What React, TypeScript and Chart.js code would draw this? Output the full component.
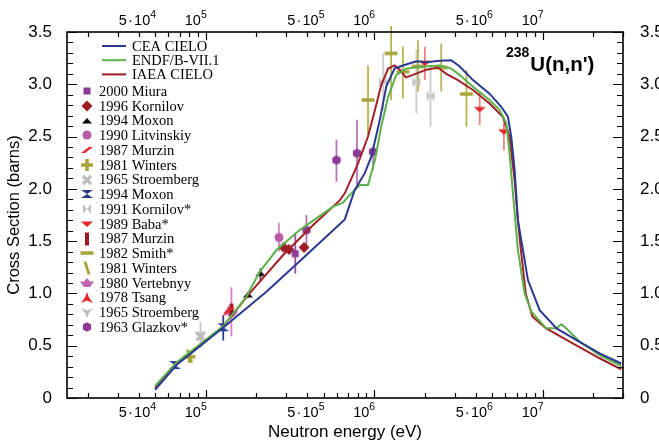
import React, { useEffect, useRef } from 'react';
import { Chart, registerables } from 'chart.js';

Chart.register(...registerables);

// ---------- axes ----------
const X_MIN = 1.5e4;
const X_MAX = 3e7;
const Y_MIN = 0;
const Y_MAX = 3.5;
const X_TICK_VALUES = [5e4, 1e5, 5e5, 1e6, 5e6, 1e7];
const X_TICK_BASES = ['5\u200A·\u200A10', '10', '5\u200A·\u200A10', '10', '5\u200A·\u200A10', '10'];
const X_TICK_EXPONENTS = ['4', '5', '5', '6', '6', '7'];
const Y_TICK_VALUES = [0, 0.5, 1, 1.5, 2, 2.5, 3, 3.5];
const Y_TICK_LABELS = ['0', '0.5', '1.0', '1.5', '2.0', '2.5', '3.0', '3.5'];

// ---------- evaluated curves ----------
const CEA_E = [5e4, 6.7e4, 1.26e5, 2.29e5, 3.96e5, 6.69e5, 7.66e5, 8.79e5, 9.62e5, 1.08e6, 1.18e6, 1.32e6, 1.48e6, 1.78e6, 2.04e6, 2.45e6, 2.87e6, 3.22e6, 3.86e6, 4.84e6, 5.68e6, 6.22e6, 6.51e6, 6.82e6, 7.13e6, 7.64e6, 8.18e6, 9.6e6, 1.21e7, 1.58e7, 2.18e7, 2.93e7];
const CEA_XS = [0.077, 0.315, 0.67, 1.016, 1.367, 1.708, 1.99, 2.15, 2.31, 2.66, 2.98, 3.15, 3.18, 3.22, 3.21, 3.225, 3.23, 3.17, 3.04, 2.91, 2.785, 2.69, 2.5, 2.18, 1.7, 1.415, 1.128, 0.84, 0.666, 0.555, 0.427, 0.33];

const ENDF_E = [5e4, 6.7e4, 1.26e5, 1.74e5, 2.09e5, 2.63e5, 3.61e5, 5.69e5, 6.53e5, 7.0e5, 8.2e5, 9.19e5, 1.01e6, 1.1e6, 1.21e6, 1.35e6, 1.55e6, 1.86e6, 2.45e6, 2.87e6, 3.22e6, 3.86e6, 4.84e6, 5.56e6, 6.09e6, 6.36e6, 6.67e6, 7.13e6, 7.82e6, 8.57e6, 1.05e7, 1.21e7, 1.29e7, 1.38e7, 1.66e7, 2.18e7, 2.93e7];
const ENDF_XS = [0.115, 0.34, 0.68, 0.968, 1.207, 1.415, 1.606, 1.83, 1.867, 1.925, 2.036, 2.036, 2.275, 2.594, 2.88, 3.088, 3.15, 3.167, 3.18, 3.15, 3.088, 2.977, 2.85, 2.753, 2.626, 2.34, 1.95, 1.415, 1.0, 0.825, 0.666, 0.666, 0.705, 0.666, 0.538, 0.41, 0.306];

const IAEA_E = [5e4, 6.7e4, 1.26e5, 1.82e5, 2.88e5, 4.34e5, 6.24e5, 6.69e5, 8.02e5, 9.19e5, 1.01e6, 1.1e6, 1.21e6, 1.32e6, 1.42e6, 1.54e6, 1.7e6, 2.04e6, 2.39e6, 2.68e6, 3.14e6, 3.86e6, 4.84e6, 5.8e6, 6.36e6, 6.82e6, 7.13e6, 7.43e6, 7.94e6, 8.7e6, 1.05e7, 1.51e7, 2.18e7, 2.93e7];
const IAEA_XS = [0.096, 0.33, 0.68, 1.0, 1.367, 1.654, 1.89, 1.957, 2.244, 2.5, 2.753, 2.99, 3.15, 3.18, 3.14, 3.066, 3.09, 3.14, 3.16, 3.1, 3.04, 2.945, 2.817, 2.69, 2.5, 2.08, 1.7, 1.415, 1.0, 0.777, 0.666, 0.523, 0.38, 0.274];

// ---------- experimental data ----------
const MIURA_E = [3.4e5];
const MIURA_XS = [1.38];
const MIURA_LO = [1.19];
const MIURA_HI = [1.58];

const KORNILOV96_E = [2.9e5, 3.12e5, 3.83e5];
const KORNILOV96_XS = [1.44, 1.42, 1.44];

const MOXON_TRI_E = [1.78e5, 2.11e5];
const MOXON_TRI_XS = [0.985, 1.19];
const MOXON_TRI_LO = [0.96, 1.11];
const MOXON_TRI_HI = [1.01, 1.24];

const LITVINSKIY_E = [2.72e5];
const LITVINSKIY_XS = [1.536];
const LITVINSKIY_LO = [1.4];
const LITVINSKIY_HI = [1.675];

const MURZIN_A_E = [1.38e5];
const MURZIN_A_XS = [0.84];

const WINTERS_A_E = [8.0e4];
const WINTERS_A_XS = [0.395];

const STROEMBERG_A_E = [9.3e4];
const STROEMBERG_A_XS = [0.59];
const STROEMBERG_A_LO = [0.475];
const STROEMBERG_A_HI = [0.73];

const MOXON_HG_E = [6.55e4, 1.27e5];
const MOXON_HG_XS = [0.315, 0.676];
const MOXON_HG_LO = [0.3, 0.55];
const MOXON_HG_HI = [0.33, 0.79];

const KORNILOV91_E = [1.13e6, 1.78e6, 2.16e6];
const KORNILOV91_XS = [3.02, 3.02, 2.887];
const KORNILOV91_LO = [2.75, 2.72, 2.59];
const KORNILOV91_HI = [3.3, 3.33, 3.18];

const BABA_E = [2.0e6, 4.23e6, 5.89e6];
const BABA_XS = [3.2, 2.76, 2.546];
const BABA_LO = [3.04, 2.61, 2.37];
const BABA_HI = [3.36, 2.93, 2.63];

const MURZIN_B_E = [1.42e5];
const MURZIN_B_XS = [0.84];

const SMITH_E = [9.19e5, 1.26e6, 1.48e6, 1.82e6, 2.5e6, 3.53e6];
const SMITH_XS = [2.85, 3.295, 3.12, 3.17, 3.16, 2.906];
const SMITH_LO = [2.51, 2.85, 2.865, 2.93, 2.93, 2.594];
const SMITH_HI = [3.18, 3.556, 3.36, 3.42, 3.39, 3.136];

const WINTERS_B_E = [8.0e4];
const WINTERS_B_XS = [0.4];

const VERTEBNYY_E = [1.42e5];
const VERTEBNYY_XS = [0.82];
const VERTEBNYY_LO = [0.59];
const VERTEBNYY_HI = [1.06];

const TSANG_E = [1.36e5];
const TSANG_XS = [0.83];

const STROEMBERG_B_E = [9.3e4];
const STROEMBERG_B_XS = [0.6];

const GLAZKOV_E = [3.96e5, 5.97e5, 7.9e5, 9.84e5];
const GLAZKOV_XS = [1.606, 2.275, 2.34, 2.355];
const GLAZKOV_LO = [1.46, 2.07, 2.04, 2.18];
const GLAZKOV_HI = [1.75, 2.47, 2.66, 2.39];

const CURVES = [
  { label: 'CEA CIELO', e: CEA_E, xs: CEA_XS, color: '#2b3990' },
  { label: 'ENDF/B-VII.1', e: ENDF_E, xs: ENDF_XS, color: '#5cb14b' },
  { label: 'IAEA CIELO', e: IAEA_E, xs: IAEA_XS, color: '#a3202a' },
];

const SERIES = [
  { label: '2000 Miura', e: MIURA_E, xs: MIURA_XS, lo: MIURA_LO, hi: MIURA_HI, shape: 'square', color: '#8b3a95', err: '#9a4fa3' },
  { label: '1996 Kornilov', e: KORNILOV96_E, xs: KORNILOV96_XS, lo: null, hi: null, shape: 'diamond', color: '#9b1c22', err: '#9b1c22' },
  { label: '1994 Moxon', e: MOXON_TRI_E, xs: MOXON_TRI_XS, lo: MOXON_TRI_LO, hi: MOXON_TRI_HI, shape: 'triUp', color: '#000000', err: '#555555' },
  { label: '1990 Litvinskiy', e: LITVINSKIY_E, xs: LITVINSKIY_XS, lo: LITVINSKIY_LO, hi: LITVINSKIY_HI, shape: 'circle', color: '#b85aa8', err: '#cf8bc6' },
  { label: '1987 Murzin', e: MURZIN_A_E, xs: MURZIN_A_XS, lo: null, hi: null, shape: 'slantR', color: '#e2262c', err: '#e2262c' },
  { label: '1981 Winters', e: WINTERS_A_E, xs: WINTERS_A_XS, lo: null, hi: null, shape: 'plus', color: '#a9a43a', err: '#a9a43a' },
  { label: '1965 Stroemberg', e: STROEMBERG_A_E, xs: STROEMBERG_A_XS, lo: STROEMBERG_A_LO, hi: STROEMBERG_A_HI, shape: 'xcross', color: '#bdbdbd', err: '#c8c8c8' },
  { label: '1994 Moxon', e: MOXON_HG_E, xs: MOXON_HG_XS, lo: MOXON_HG_LO, hi: MOXON_HG_HI, shape: 'hourglass', color: '#2b3990', err: '#2b3990' },
  { label: '1991 Kornilov*', e: KORNILOV91_E, xs: KORNILOV91_XS, lo: KORNILOV91_LO, hi: KORNILOV91_HI, shape: 'bowtie', color: '#c2c2c2', err: '#cdcdcd' },
  { label: '1989 Baba*', e: BABA_E, xs: BABA_XS, lo: BABA_LO, hi: BABA_HI, shape: 'triDown', color: '#e2262c', err: '#ee8080' },
  { label: '1987 Murzin', e: MURZIN_B_E, xs: MURZIN_B_XS, lo: null, hi: null, shape: 'vbar', color: '#9b1c22', err: '#9b1c22' },
  { label: '1982 Smith*', e: SMITH_E, xs: SMITH_XS, lo: SMITH_LO, hi: SMITH_HI, shape: 'hbar', color: '#a9a43a', err: '#b8b452' },
  { label: '1981 Winters', e: WINTERS_B_E, xs: WINTERS_B_XS, lo: null, hi: null, shape: 'slantL', color: '#a9a43a', err: '#a9a43a' },
  { label: '1980 Vertebnyy', e: VERTEBNYY_E, xs: VERTEBNYY_XS, lo: VERTEBNYY_LO, hi: VERTEBNYY_HI, shape: 'boat', color: '#c264b4', err: '#d57fcc' },
  { label: '1978 Tsang', e: TSANG_E, xs: TSANG_XS, lo: null, hi: null, shape: 'arrowUp', color: '#e2262c', err: '#e2262c' },
  { label: '1965 Stroemberg', e: STROEMBERG_B_E, xs: STROEMBERG_B_XS, lo: null, hi: null, shape: 'yshape', color: '#bdbdbd', err: '#c8c8c8' },
  { label: '1963 Glazkov*', e: GLAZKOV_E, xs: GLAZKOV_XS, lo: GLAZKOV_LO, hi: GLAZKOV_HI, shape: 'hexagon', color: '#8b3a95', err: '#b474b6' },
];

const SANS = '"Liberation Sans", Arial, Helvetica, sans-serif';
const SERIF = '"Liberation Serif", "Times New Roman", serif';

function makeMarker(shape: string, color: string): HTMLCanvasElement {
  const c = document.createElement('canvas');
  c.width = 16;
  c.height = 16;
  const g = c.getContext('2d') as CanvasRenderingContext2D;
  g.translate(8, 8);
  g.fillStyle = color;
  g.strokeStyle = color;
  const poly = (pts: number[][]) => {
    g.beginPath();
    pts.forEach(([x, y], i) => (i ? g.lineTo(x, y) : g.moveTo(x, y)));
    g.closePath();
    g.fill();
  };
  switch (shape) {
    case 'square': g.fillRect(-3.5, -3.5, 7, 7); break;
    case 'diamond': poly([[0, -5.5], [5.5, 0], [0, 5.5], [-5.5, 0]]); break;
    case 'triUp': poly([[-5, 2.5], [5, 2.5], [0, -3]]); break;
    case 'circle': g.beginPath(); g.arc(0, 0, 4.5, 0, Math.PI * 2); g.fill(); break;
    case 'slantR': poly([[-6, 3], [-2, 3], [6, -3], [2, -3]]); break;
    case 'plus': g.fillRect(-6, -1.75, 12, 3.5); g.fillRect(-1.75, -6, 3.5, 12); break;
    case 'xcross':
      g.lineWidth = 3.2; g.beginPath(); g.moveTo(-4, -4); g.lineTo(4, 4); g.moveTo(-4, 4); g.lineTo(4, -4); g.stroke(); break;
    case 'hourglass': poly([[-6, -4], [6, -4], [0, 0]]); poly([[-6, 4], [6, 4], [0, 0]]); break;
    case 'bowtie': poly([[-4, -5], [-4, 5], [0, 0]]); poly([[4, -5], [4, 5], [0, 0]]); break;
    case 'triDown': poly([[-6, -2.5], [6, -2.5], [0, 3]]); break;
    case 'vbar': g.fillRect(-2, -6.5, 4, 13); break;
    case 'hbar': g.fillRect(-6.5, -1.75, 13, 3.5); break;
    case 'slantL': poly([[-3.5, -6.5], [-0.5, -6.5], [3.5, 6.5], [0.5, 6.5]]); break;
    case 'boat': poly([[0, -5], [3, -1.5], [7, -1.5], [3, 4], [-3, 4], [-7, -1.5], [-3, -1.5]]); break;
    case 'arrowUp': poly([[0, -6], [2, -0.5], [6, 5], [0, 2.5], [-6, 5], [-2, -0.5]]); break;
    case 'yshape': poly([[-6, -4], [0, -1.5], [6, -4], [2, 1], [0, 6], [-2, 1]]); break;
    case 'hexagon': {
      const pts: number[][] = [];
      for (let k = 0; k < 6; k++) { const a = Math.PI / 6 + (k * Math.PI) / 3; pts.push([4.8 * Math.cos(a), 4.8 * Math.sin(a)]); }
      poly(pts); break;
    }
  }
  return c;
}

export default function App() {
  const ref = useRef<HTMLCanvasElement>(null);

  useEffect(() => {
    document.body.style.margin = '0';
    const canvas = ref.current as HTMLCanvasElement;
    const markers = SERIES.map((s) => makeMarker(s.shape, s.color));

    const datasets: any[] = [];
    CURVES.forEach((c) => {
      datasets.push({
        label: c.label,
        data: c.e.map((e, i) => ({ x: e, y: c.xs[i] })),
        showLine: true,
        borderColor: c.color,
        backgroundColor: c.color,
        borderWidth: 2,
        pointRadius: 0,
        tension: 0,
        order: 0,
      });
    });
    SERIES.forEach((s, k) => {
      datasets.push({
        label: s.label,
        data: s.e.map((e, i) => ({ x: e, y: s.xs[i] })),
        showLine: false,
        pointStyle: markers[k],
        pointRadius: 6,
        order: 1,
        errLo: s.lo,
        errHi: s.hi,
        errColor: s.err,
      });
    });

    const errorBars = {
      id: 'errorBars',
      beforeDatasetsDraw(chart: any) {
        const { ctx, scales } = chart;
        ctx.save();
        ctx.lineWidth = 1.8;
        chart.data.datasets.forEach((ds: any) => {
          if (!ds.errLo) return;
          ctx.strokeStyle = ds.errColor;
          ds.data.forEach((p: any, i: number) => {
            const px = scales.x.getPixelForValue(p.x);
            ctx.beginPath();
            ctx.moveTo(px, scales.y.getPixelForValue(ds.errLo[i]));
            ctx.lineTo(px, scales.y.getPixelForValue(ds.errHi[i]));
            ctx.stroke();
          });
        });
        ctx.restore();
      },
    };

    const frameTicks = {
      id: 'frameTicks',
      afterDraw(chart: any) {
        const { ctx, chartArea: a, scales } = chart;
        ctx.save();
        ctx.strokeStyle = '#000';
        ctx.lineWidth = 1.2;
        for (let d = 1e4; d <= 1e7; d *= 10) {
          for (let m = 1; m <= 9; m++) {
            const v = m * d;
            if (v < X_MIN || v > X_MAX) continue;
            const px = Math.round(scales.x.getPixelForValue(v)) + 0.5;
            const len = m === 1 ? 8 : 5;
            ctx.beginPath();
            ctx.moveTo(px, a.bottom); ctx.lineTo(px, a.bottom - len);
            ctx.moveTo(px, a.top); ctx.lineTo(px, a.top + len);
            ctx.stroke();
          }
        }
        for (let i = 0; i <= 35; i++) {
          const py = Math.round(scales.y.getPixelForValue(i / 10)) + 0.5;
          const len = i % 5 === 0 ? 10 : 6;
          ctx.beginPath();
          ctx.moveTo(a.left, py); ctx.lineTo(a.left + len, py);
          ctx.moveTo(a.right, py); ctx.lineTo(a.right - len, py);
          ctx.stroke();
        }
        ctx.lineWidth = 1.6;
        ctx.strokeRect(a.left, a.top, a.right - a.left, a.bottom - a.top);

        // x tick labels with real superscripts (bottom and top)
        ctx.fillStyle = '#000';
        ctx.textAlign = 'left';
        ctx.textBaseline = 'alphabetic';
        X_TICK_VALUES.forEach((v, i) => {
          const px = scales.x.getPixelForValue(v);
          ctx.font = `14.5px ${SANS}`;
          const w1 = ctx.measureText(X_TICK_BASES[i]).width;
          ctx.font = `10.5px ${SANS}`;
          const w2 = ctx.measureText(X_TICK_EXPONENTS[i]).width;
          const x0 = px + 1 - w1 - w2;
          ctx.font = `14.5px ${SANS}`;
          ctx.fillText(X_TICK_BASES[i], x0, a.bottom + 19);
          ctx.fillText(X_TICK_BASES[i], x0, a.top - 7);
          ctx.font = `10.5px ${SANS}`;
          ctx.fillText(X_TICK_EXPONENTS[i], x0 + w1, a.bottom + 12);
          ctx.fillText(X_TICK_EXPONENTS[i], x0 + w1, a.top - 14);
        });
        ctx.restore();
      },
    };

    const legendAndLabel = {
      id: 'legendAndLabel',
      afterDraw(chart: any) {
        const { ctx } = chart;
        ctx.save();
        ctx.font = `14.5px ${SERIF}`;
        ctx.textBaseline = 'middle';
        ctx.textAlign = 'left';
        ctx.fillStyle = '#000';
        CURVES.forEach((c, i) => {
          const y = 46 + i * 14.2;
          ctx.strokeStyle = c.color;
          ctx.lineWidth = 2;
          ctx.beginPath(); ctx.moveTo(102, y); ctx.lineTo(126, y); ctx.stroke();
          ctx.fillText(c.label, 132, y + 1);
        });
        SERIES.forEach((s, i) => {
          const y = 91 + i * 14.75;
          ctx.drawImage(markers[i], 87 - 8, Math.round(y) - 8);
          ctx.fillText(s.label, 99, y + 1);
        });
        ctx.textBaseline = 'alphabetic';
        ctx.font = `bold 14px ${SANS}`;
        ctx.fillText('238', 506, 57);
        const w = ctx.measureText('238').width;
        ctx.font = `bold 20.5px ${SANS}`;
        ctx.fillText("U(n,n')", 506 + w + 1, 71);
        ctx.restore();
      },
    };

    const yTickCb = (v: any) => {
      const i = Y_TICK_VALUES.indexOf(Number(v));
      return i >= 0 ? Y_TICK_LABELS[i] : '';
    };
    const xBuild = (s: any) => { s.ticks = X_TICK_VALUES.map((v) => ({ value: v })); };
    const yBuild = (s: any) => { s.ticks = Y_TICK_VALUES.map((v) => ({ value: v })); };

    const chart = new Chart(canvas, {
      type: 'scatter',
      data: { datasets },
      plugins: [errorBars, frameTicks, legendAndLabel],
      options: {
        responsive: false,
        animation: false,
        devicePixelRatio: 1,
        layout: { padding: 0 },
        plugins: { legend: { display: false }, tooltip: { enabled: false } },
        scales: {
          x: {
            type: 'logarithmic', position: 'bottom', min: X_MIN, max: X_MAX,
            grid: { display: false }, border: { display: false },
            afterBuildTicks: xBuild,
            afterFit: (s: any) => { s.height = 48; },
            ticks: { display: false },
            title: { display: true, text: 'Neutron energy (eV)', color: '#000', font: { family: SANS, size: 17 }, padding: { top: 0, bottom: 3 } },
          },
          x2: {
            type: 'logarithmic', position: 'top', min: X_MIN, max: X_MAX,
            grid: { display: false }, border: { display: false },
            afterBuildTicks: xBuild,
            afterFit: (s: any) => { s.height = 32; },
            ticks: { display: false },
          },
          y: {
            type: 'linear', position: 'left', min: Y_MIN, max: Y_MAX,
            grid: { display: false }, border: { display: false },
            afterBuildTicks: yBuild,
            afterFit: (s: any) => { s.width = 67; },
            ticks: { autoSkip: false, padding: 7, color: '#000', font: { family: SANS, size: 17 }, callback: yTickCb },
            title: { display: true, text: 'Cross Section (barns)', color: '#000', font: { family: SANS, size: 16.5 }, padding: { top: 5, bottom: 0 } },
          },
          y2: {
            type: 'linear', position: 'right', min: Y_MIN, max: Y_MAX,
            grid: { display: false }, border: { display: false },
            afterBuildTicks: yBuild,
            afterFit: (s: any) => { s.width = 36; },
            ticks: { autoSkip: false, padding: 9, color: '#000', font: { family: SANS, size: 17 }, callback: yTickCb },
          },
        },
      } as any,
    });
    return () => chart.destroy();
  }, []);

  return <canvas ref={ref} width={659} height={446} style={{ display: 'block' }} />;
}
